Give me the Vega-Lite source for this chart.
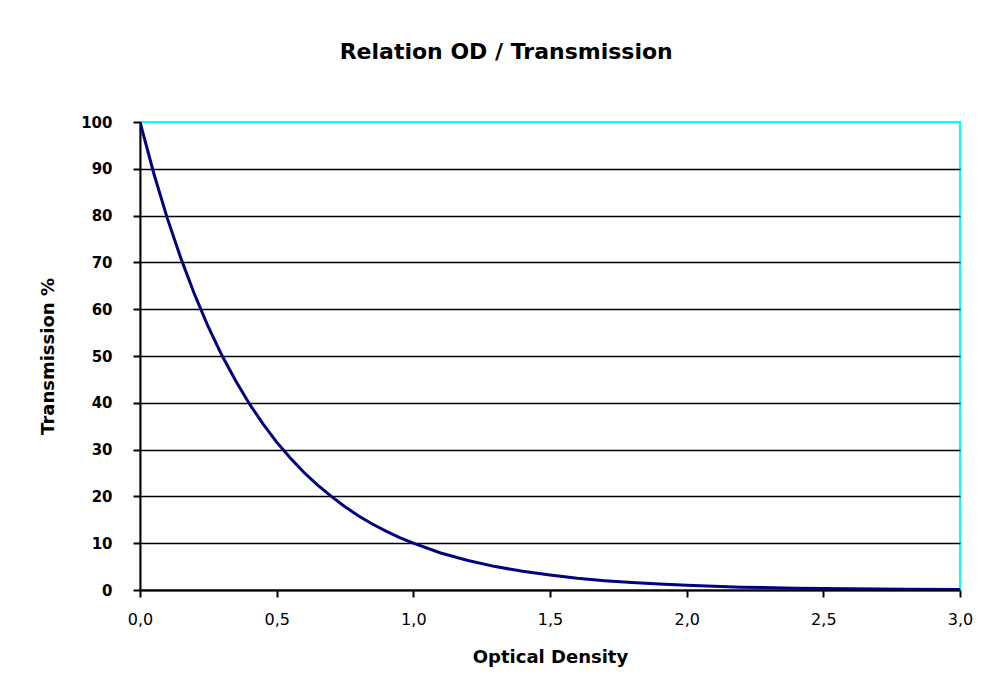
{
  "$schema": "https://vega.github.io/schema/vega-lite/v6.json",
  "width": 820,
  "height": 468,
  "autosize": {"type": "none"},
  "padding": {"left": 140, "top": 122, "right": 21, "bottom": 91},
  "background": "white",
  "title": {
    "text": "Relation OD / Transmission",
    "font": "DejaVu Sans",
    "fontSize": 22,
    "fontWeight": "bold",
    "color": "black",
    "offset": 51,
    "anchor": "middle",
    "frame": "bounds"
  },
  "config": {
    "view": {"stroke": "#00FFFF", "strokeWidth": 2},
    "axis": {"labelColor": "black", "titleColor": "black"}
  },
  "data": {
    "values": [
      {"od": 0.0, "t": 100},
      {"od": 0.05, "t": 89.1},
      {"od": 0.1, "t": 79.4},
      {"od": 0.15, "t": 70.8},
      {"od": 0.2, "t": 63.1},
      {"od": 0.25, "t": 56.2},
      {"od": 0.3, "t": 50.1},
      {"od": 0.35, "t": 44.7},
      {"od": 0.4, "t": 39.8},
      {"od": 0.45, "t": 35.5},
      {"od": 0.5, "t": 31.6},
      {"od": 0.55, "t": 28.2},
      {"od": 0.6, "t": 25.1},
      {"od": 0.65, "t": 22.4},
      {"od": 0.7, "t": 20.0},
      {"od": 0.75, "t": 17.8},
      {"od": 0.8, "t": 15.8},
      {"od": 0.85, "t": 14.1},
      {"od": 0.9, "t": 12.6},
      {"od": 0.95, "t": 11.2},
      {"od": 1.0, "t": 10.0},
      {"od": 1.1, "t": 7.9},
      {"od": 1.2, "t": 6.3},
      {"od": 1.3, "t": 5.0},
      {"od": 1.4, "t": 4.0},
      {"od": 1.5, "t": 3.2},
      {"od": 1.6, "t": 2.5},
      {"od": 1.7, "t": 2.0},
      {"od": 1.8, "t": 1.6},
      {"od": 1.9, "t": 1.3},
      {"od": 2.0, "t": 1.0},
      {"od": 2.2, "t": 0.6},
      {"od": 2.4, "t": 0.4},
      {"od": 2.6, "t": 0.25},
      {"od": 2.8, "t": 0.16},
      {"od": 3.0, "t": 0.1}
    ]
  },
  "mark": {"type": "line", "color": "#000080", "strokeWidth": 3, "clip": true},
  "encoding": {
    "x": {
      "field": "od",
      "type": "quantitative",
      "scale": {"domain": [0, 3], "nice": false, "zero": true},
      "axis": {
        "values": [0, 0.5, 1, 1.5, 2, 2.5, 3],
        "labelExpr": "replace(format(datum.value, '.1f'), '.', ',')",
        "labelFlush": false,
        "labelFont": "DejaVu Sans",
        "labelFontSize": 16,
        "labelPadding": 14,
        "tickSize": 7,
        "tickColor": "black",
        "tickWidth": 2,
        "domainColor": "black",
        "domainWidth": 2,
        "grid": false,
        "title": "Optical Density",
        "titleFont": "DejaVu Sans",
        "titleFontSize": 18,
        "titleFontWeight": "bold",
        "titlePadding": 21
      }
    },
    "y": {
      "field": "t",
      "type": "quantitative",
      "scale": {"domain": [0, 100], "nice": false},
      "axis": {
        "values": [0, 10, 20, 30, 40, 50, 60, 70, 80, 90, 100],
        "labelFont": "DejaVu Sans",
        "labelFontSize": 15,
        "labelFontWeight": "bold",
        "labelPadding": 21,
        "tickSize": 7,
        "tickColor": "black",
        "tickWidth": 2,
        "domainColor": "black",
        "domainWidth": 2,
        "grid": true,
        "gridColor": {"condition": {"test": "datum.value === 100", "value": "#00FFFF"}, "value": "black"},
        "gridWidth": 1.5,
        "gridOpacity": 1,
        "title": "Transmission %",
        "titleFont": "DejaVu Sans",
        "titleFontSize": 18,
        "titleFontWeight": "bold",
        "titlePadding": 23
      }
    }
  }
}
